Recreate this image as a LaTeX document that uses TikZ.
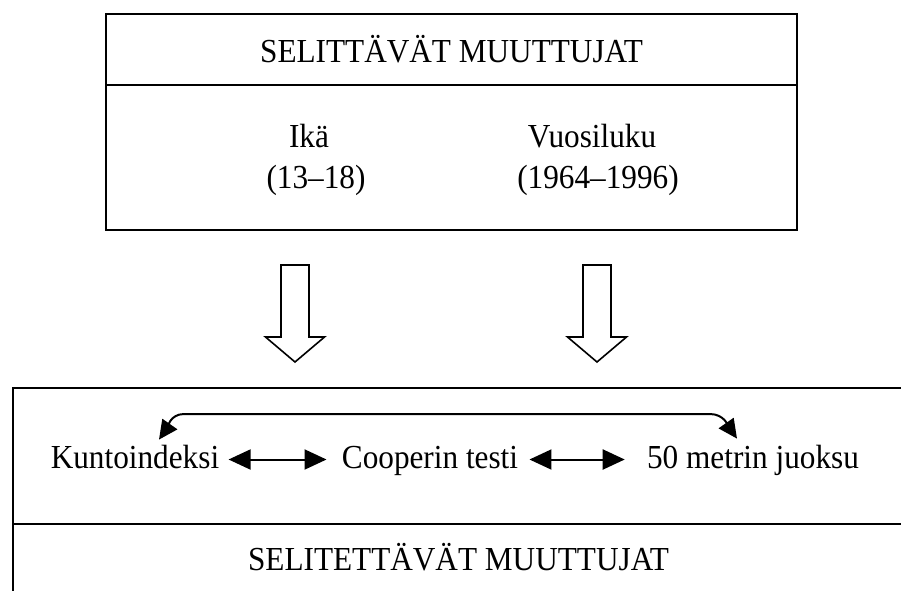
\documentclass[tikz,border=0pt]{standalone}
\usepackage{fontspec}
\setmainfont{Liberation Serif}[FakeStretch=0.93]
\usetikzlibrary{arrows.meta,positioning}

\begin{document}
\begin{tikzpicture}
			[x=0.5pt,y=-0.5pt,node distance=0pt,
			panel/.style={rectangle,draw,line width=1pt,outer sep=0pt,inner sep=0pt},
			caption/.style={font=\fontsize{16.8}{19}\selectfont,anchor=base,inner sep=1pt},
			var/.style={caption,text height=12pt,text depth=3.5pt},
			mutual/.style={{Triangle[length=11pt,width=10pt]}-{Triangle[length=11pt,width=10pt]},line width=1pt},
			overarc/.style={{Triangle[length=9.5pt,width=9pt]}-{Triangle[length=9.5pt,width=9pt]},line width=1pt},
			hollow/.style={draw,line width=0.8pt,fill=white}]
			
			\useasboundingbox (0,0) rectangle (901,590);
			\clip (0,0) rectangle (901,590);
			
			\node [panel,minimum width=345.5pt,minimum height=35.5pt](head) at (451.5,49.5) {};
			\node [panel,minimum width=345.5pt,minimum height=72.5pt](expl) [below=of head] {};
			\node [caption](ttop) at (451.5,62)                          {SELITTÄVÄT MUUTTUJAT};
			
			\node [caption](ika) at (309,147)                            {Ikä};
				\node [caption](ikaval) [below=20.5pt of ika.base, anchor=base, xshift=3.5pt]     {(13–18)};
			\node [caption](vuosi) at (592,147)                          {Vuosiluku};
				\node [caption](vuosival) [below=20.5pt of vuosi.base, anchor=base, xshift=3pt]  {(1964–1996)};
			
			\coordinate (a1) at (295,265);
			\coordinate (a2) at (597,265);
			\draw [hollow] (a1) ++(-14,0) -- ++(28,0) -- ++(0,72) -- ++(15.5,0) -- ++(-29.5,25) -- ++(-29.5,-25) -- ++(15.5,0) -- cycle;
			\draw [hollow] (a2) ++(-14,0) -- ++(28,0) -- ++(0,72) -- ++(15.5,0) -- ++(-29.5,25) -- ++(-29.5,-25) -- ++(15.5,0) -- cycle;
			
			\node [panel,minimum width=445.5pt,minimum height=68pt](expd) at (458.5,456) {};
			\node [panel,minimum width=445.5pt,minimum height=38pt](foot) [below=of expd] {};
			\node [caption](tbot) at (458.5,570)                         {SELITETTÄVÄT MUUTTUJAT};
			
			\node [var](kunto) at (135,468)                              {Kuntoindeksi};
			\node [var](cooper) at (430,468)                             {Cooperin testi};
			\node [var](juoksu) at (753,468)                             {50 metrin juoksu};
			
			\draw [mutual, shorten <=3.5pt, shorten >=6.5pt] (kunto) -- (cooper);
			\draw [mutual, shorten <=4.5pt, shorten >=10pt] (cooper) -- (juoksu);
			
			\coordinate (bl) at (184,414);
			\coordinate (br) at (710,414);
			\draw [overarc] ([xshift=12pt,yshift=1pt]kunto.north) to[out=55,in=180] (bl)
				-- (br) to[out=0,in=125] ([xshift=-8pt,yshift=1.5pt]juoksu.north);
			
			\end{tikzpicture}
\end{document}
